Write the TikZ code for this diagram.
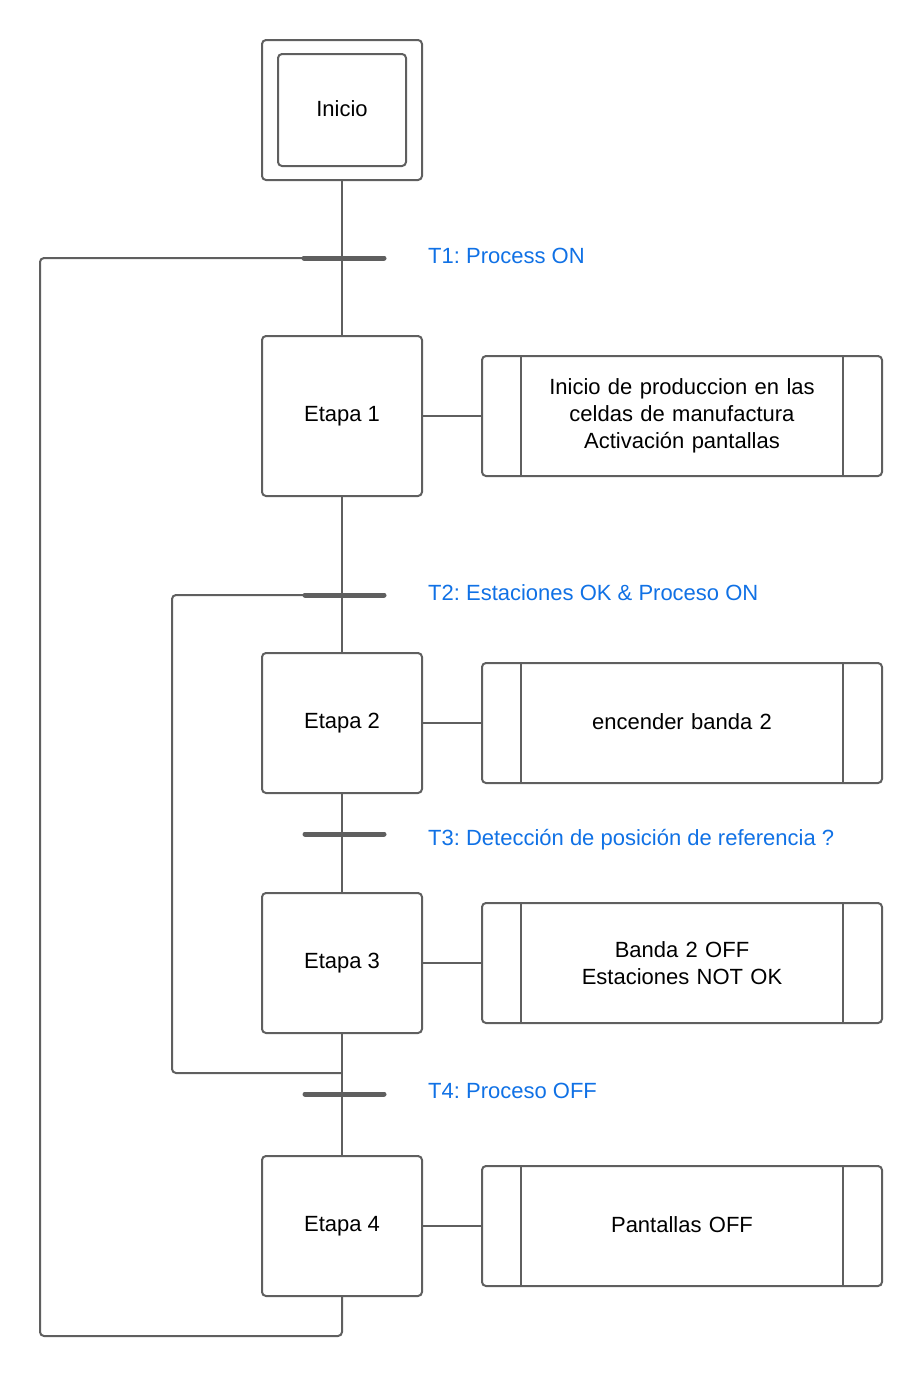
\documentclass[tikz,border=0pt]{standalone}
\usepackage{fontspec}
\setmainfont{Liberation Sans}
\frenchspacing
\definecolor{linegray}{RGB}{95,95,95}
\definecolor{tblue}{RGB}{16,113,229}
\begin{document}
\begin{tikzpicture}[x=1pt,y=-1pt,
  line/.style={draw=linegray,line width=2pt},
  box/.style={draw=linegray,line width=2pt,rounded corners=4pt,rectangle,inner sep=0pt,align=center,font=\fontsize{22}{27}\selectfont},
  stepbox/.style={box,minimum width=160pt},
  actbox/.style={box,minimum width=400pt,minimum height=120pt,text width=330pt},
  bar/.style={draw=linegray,line width=5pt,line cap=round},
  tlabel/.style={anchor=west,text=tblue,font=\fontsize{22}{27}\selectfont,inner sep=0pt}
]
\useasboundingbox (0,0) rectangle (922,1377);
% steps
\node[stepbox,minimum height=140pt] (start) at (342,110) {};
\node[box,minimum width=128pt,minimum height=112pt] (inicio) at (342,110) {\raisebox{2pt}{Inicio}};
\node[stepbox,minimum height=160pt] (e1) at (342,416) {\raisebox{1pt}{Etapa 1}};
\node[stepbox,minimum height=140pt] (e2) at (342,723) {\raisebox{1pt}{Etapa 2}};
\node[stepbox,minimum height=140pt] (e3) at (342,963) {\raisebox{1pt}{Etapa 3}};
\node[stepbox,minimum height=140pt] (e4) at (342,1226) {\raisebox{1pt}{Etapa 4}};
% actions
\node[actbox] (a1) at (682,416) {\raisebox{3pt}{\parbox{330pt}{\centering Inicio de produccion en las\\celdas de manufactura\\Activación pantallas}}};
\node[actbox] (a2) at (682,723) {\raisebox{2pt}{encender banda 2}};
\node[actbox] (a3) at (682,963) {\raisebox{3pt}{\parbox{330pt}{\centering Banda 2 OFF\\Estaciones NOT OK}}};
\node[actbox] (a4) at (682,1226) {\raisebox{2pt}{Pantallas OFF}};
\foreach \a in {a1,a2,a3,a4}{
  \draw[line] ([xshift=40pt]\a.north west) -- ([xshift=40pt]\a.south west);
  \draw[line] ([xshift=-40pt]\a.north east) -- ([xshift=-40pt]\a.south east);
}
% links to actions
\draw[line] (e1.east) -- (a1.west);
\draw[line] (e2.east) -- (a2.west);
\draw[line] (e3.east) -- (a3.west);
\draw[line] (e4.east) -- (a4.west);
% main flow
\draw[line] (start.south) -- (e1.north);
\draw[line] (e1.south) -- (e2.north);
\draw[line] (e2.south) -- (e3.north);
\draw[line] (e3.south) -- (e4.north);
% transitions
\coordinate (t1l) at (304,258); \coordinate (t1r) at (384,258);
\coordinate (t2l) at (305,595); \coordinate (t2r) at (384,595);
\coordinate (t3l) at (305,834); \coordinate (t3r) at (384,834);
\coordinate (t4l) at (305,1094); \coordinate (t4r) at (384,1094);
\coordinate (loop1) at (342,1336);
\coordinate (loop2) at (342,1073);
% loops
\draw[line,rounded corners=4pt] (t1l) -- (40,258) -- (40,1336) -- (loop1) -- (e4.south);
\draw[line,rounded corners=4pt] (t2l) -- (172,595) -- (172,1073) -- (loop2);
\draw[bar] (t1l) -- (t1r);
\draw[bar] (t2l) -- (t2r);
\draw[bar] (t3l) -- (t3r);
\draw[bar] (t4l) -- (t4r);
\node[tlabel] (l1) at (428,256) {T1: Process ON};
\node[tlabel] (l2) at (428,593) {T2: Estaciones OK \& Proceso ON};
\node[tlabel] (l3) at (428,840) {T3: Detección de posición de referencia ?};
\node[tlabel] (l4) at (428,1091) {T4: Proceso OFF};
\end{tikzpicture}
\end{document}
